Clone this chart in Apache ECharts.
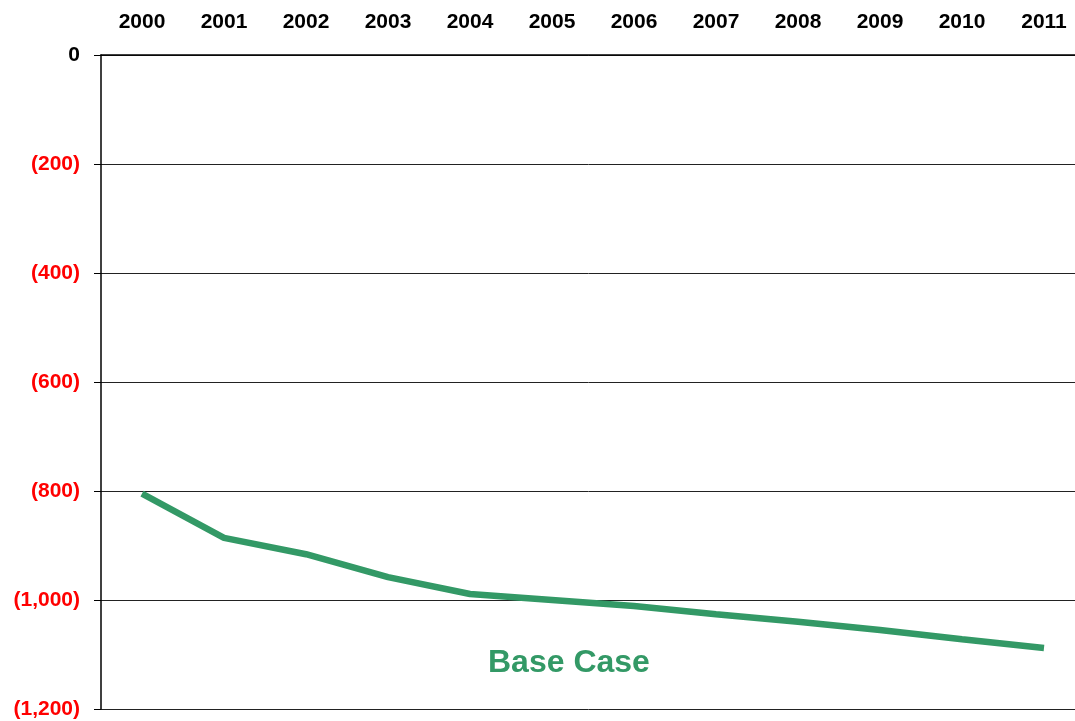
<!DOCTYPE html>
<html>
<head>
    <meta charset="UTF-8">
    <title>Base Case</title>
    <script src="https://cdn.jsdelivr.net/npm/echarts@6/dist/echarts.min.js"></script>
    <style>
        html, body { margin: 0; padding: 0; background: #fff; }
        #chart { width: 1075px; height: 721px; }
    </style>
</head>
<body>
    <div id="chart"></div>
    <script>
        // years along the top
        const years = ['2000', '2001', '2002', '2003', '2004', '2005',
                       '2006', '2007', '2008', '2009', '2010', '2011'];
        // base case values
        const baseCase = [-805, -886, -916, -958, -989, -1000,
                          -1011, -1026, -1040, -1055, -1072, -1088];
        const seriesName = 'Base Case';

        const green = '#339966';
        const chart = echarts.init(document.getElementById('chart'));

        function fmt(v) {
            if (v === 0) return '0';
            return '(' + Math.abs(v).toLocaleString('en-US') + ')';
        }

        chart.setOption({
            animation: false,
            // plot runs past the right edge, like the original
            grid: { left: 101, top: 55, width: 984, height: 654, outerBoundsMode: 'none' },
            xAxis: {
                type: 'category',
                position: 'top',
                data: years,
                boundaryGap: true,
                axisLine: { lineStyle: { color: '#000', width: 1.5 } },
                axisTick: { inside: true, length: 6, lineStyle: { color: '#000' } },
                axisLabel: {
                    color: '#000', fontWeight: 'bold', fontSize: 21,
                    fontFamily: 'Liberation Sans, Arial', margin: 22
                }
            },
            yAxis: {
                type: 'value',
                min: -1200, max: 0, interval: 200,
                axisLine: { show: true, lineStyle: { color: '#000', width: 1.5 } },
                axisTick: { show: true, length: 7, lineStyle: { color: '#000' } },
                splitLine: { lineStyle: { color: '#222', width: 1 } },
                axisLabel: {
                    fontWeight: 'bold', fontSize: 21, margin: 21,
                    fontFamily: 'Liberation Sans, Arial',
                    formatter: fmt,
                    color: function (v) { return Number(v) === 0 ? '#000' : '#ff0000'; }
                }
            },
            series: [{
                name: seriesName,
                type: 'line',
                data: baseCase,
                symbol: 'none',
                lineStyle: { color: green, width: 6.5 }
            }],
            graphic: [{
                type: 'text',
                left: 488, top: 647,
                style: {
                    text: seriesName,
                    fill: green,
                    font: 'bold 32px Liberation Sans, Arial'
                }
            }]
        });
    </script>
</body>
</html>
